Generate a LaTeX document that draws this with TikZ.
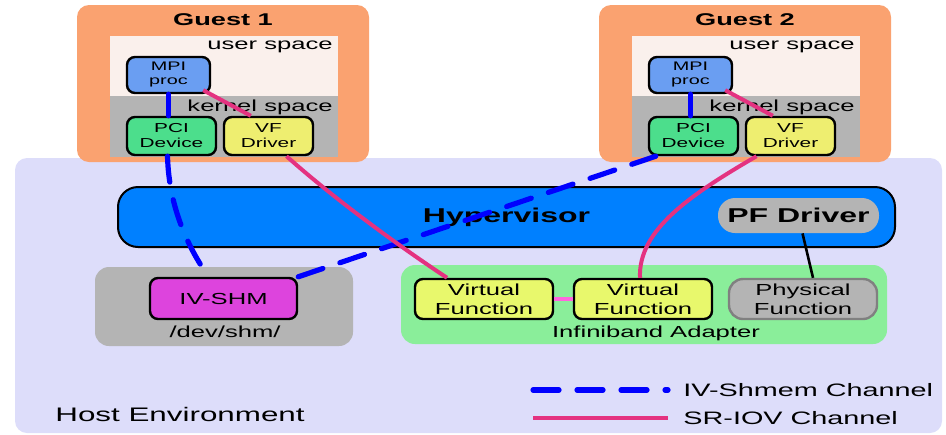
\documentclass[tikz,border=0pt]{standalone}
\usepackage{fontspec}
\setmainfont[FakeStretch=1.6]{Liberation Sans}
\definecolor{hostbg}{RGB}{221,221,250}
\definecolor{guestbg}{RGB}{250,162,112}
\definecolor{userbg}{RGB}{250,240,236}
\definecolor{kernbg}{RGB}{180,180,180}
\definecolor{mpiblue}{RGB}{106,158,242}
\definecolor{pcigreen}{RGB}{76,222,140}
\definecolor{drvyellow}{RGB}{238,238,112}
\definecolor{hypblue}{RGB}{0,128,255}
\definecolor{shmmag}{RGB}{221,68,221}
\definecolor{ibgreen}{RGB}{138,238,154}
\definecolor{vfyellow}{RGB}{232,248,108}
\definecolor{srpink}{RGB}{228,50,128}
\definecolor{vfpink}{RGB}{255,102,221}

\begin{document}
\begin{tikzpicture}[x=.5pt,y=-.5pt,
  box/.style={draw,line width=1.2pt,rounded corners=4pt,inner sep=0pt,align=center},
  shmem/.style={blue,line width=2.6pt,dash pattern=on 13pt off 9pt,line cap=round},
  sriov/.style={srpink,line width=2pt},
  tiny/.style={font=\fontsize{6.5}{7.5}\selectfont},
  txt/.style={font=\fontsize{8}{9.5}\selectfont},
  lbl/.style={inner sep=0pt,font=\fontsize{8}{9.5}\selectfont},
  big/.style={font=\bfseries\fontsize{10}{12}\selectfont}]
\useasboundingbox (0,0) rectangle (946,434);
% host
\fill[hostbg,rounded corners=6pt] (15,158) rectangle (942,433);
\node[anchor=west,inner sep=0pt,font=\fontsize{9.8}{11}\selectfont] (host) at (55,414) {Host Environment};
% guest 1
\fill[guestbg,rounded corners=6pt] (77,5) rectangle (369,162);
\fill[userbg] (110,36) rectangle (338,96);
\fill[kernbg] (110,96) rectangle (338,157);
\node[font=\bfseries\fontsize{8.5}{10}\selectfont] (g1) at (223,20) {Guest 1};
\node[anchor=east,lbl] (us1) at (333,47) {user space};
\node[anchor=east,lbl] (ks1) at (333,107) {kernel space};
\node[box,fill=mpiblue,minimum width=41.5pt,minimum height=18pt,font=\fontsize{6.2}{7}\selectfont] (mpi1) at (168.5,75) {MPI\\proc};
\node[box,fill=pcigreen,minimum width=44.5pt,minimum height=19pt,tiny] (pci1) at (171.5,136) {PCI\\Device};
\node[box,fill=drvyellow,minimum width=44.5pt,minimum height=19pt,tiny] (vfd1) at (268.5,136) {VF\\Driver};
% guest 2
\fill[guestbg,rounded corners=6pt] (599,5) rectangle (891,162);
\fill[userbg] (632,36) rectangle (860,96);
\fill[kernbg] (632,96) rectangle (860,157);
\node[font=\bfseries\fontsize{8.5}{10}\selectfont] (g2) at (745,20) {Guest 2};
\node[anchor=east,lbl] (us2) at (855,47) {user space};
\node[anchor=east,lbl] (ks2) at (855,107) {kernel space};
\node[box,fill=mpiblue,minimum width=41.5pt,minimum height=18pt,font=\fontsize{6.2}{7}\selectfont] (mpi2) at (690.5,75) {MPI\\proc};
\node[box,fill=pcigreen,minimum width=44.5pt,minimum height=19pt,tiny] (pci2) at (693.5,136) {PCI\\Device};
\node[box,fill=drvyellow,minimum width=44.5pt,minimum height=19pt,tiny] (vfd2) at (790.5,136) {VF\\Driver};
% hypervisor
\node[box,line width=1pt,fill=hypblue,rounded corners=10pt,minimum width=388.5pt,minimum height=30pt,big] (hyp) at (506.5,217) {Hypervisor};
\node[fill=kernbg,rounded corners=8.5pt,inner sep=0pt,minimum width=80.5pt,minimum height=17.5pt,big] (pfd) at (798.5,215.5) {PF Driver};
% shared memory
\fill[kernbg,rounded corners=7pt] (95,267) rectangle (353,346);
\node[box,fill=shmmag,minimum width=73.5pt,minimum height=20.5pt,txt] (ivshm) at (223.5,298.5) {IV-SHM};
\node[txt] (devshm) at (225,332) {/dev/shm/};
% adapter
\fill[ibgreen,rounded corners=7pt] (401,265) rectangle (887,344);
\node[box,fill=vfyellow,minimum width=69pt,minimum height=20pt,txt] (vf1) at (484,299) {Virtual\\Function};
\node[box,fill=vfyellow,minimum width=69pt,minimum height=20pt,txt] (vf2) at (643,299) {Virtual\\Function};
\node[box,draw=gray,fill=kernbg,rounded corners=7pt,minimum width=74pt,minimum height=20pt,txt] (phys) at (803,299) {Physical\\Function};
\node[txt] (ib) at (656,333) {Infiniband Adapter};
% channels
\draw[shmem] (mpi1.south) -- (mpi1.south |- pci1.north);
\draw[shmem] ([xshift=-2pt]pci1.south) .. controls (169,210) and (190,250) .. ([xshift=-7.5pt]ivshm.north);
\draw[shmem] (ivshm.north east) -- ([xshift=4pt]pci2.south west);
\draw[shmem] (mpi2.south) -- (mpi2.south |- pci2.north);
\draw[sriov] ([shift={(-4pt,2pt)}]mpi1.south east) -- ([xshift=14pt]vfd1.north west);
\draw[sriov] ([xshift=9pt]vfd1.south) .. controls (330,195) and (390,240) .. ([xshift=-18.5pt]vf1.north);
\draw[sriov] ([shift={(-4pt,2pt)}]mpi2.south east) -- ([xshift=14pt]vfd2.north west);
\draw[sriov] ([xshift=-17pt]vfd2.south) .. controls (690,195) and (638,230) .. ([xshift=-1.5pt]vf2.north);
\draw[vfpink,line width=1.8pt] (vf1.east) -- (vf2.west);
\draw[line width=1.3pt] ([xshift=2pt]pfd.south) -- ([xshift=5pt]phys.north);
% legend
\coordinate (shA) at (533,390);
\coordinate (shB) at (668,390);
\draw[shmem] (shA) -- (shB);
\node[anchor=west,inner sep=0pt,font=\fontsize{9}{11}\selectfont] (shlbl) at (683,390) {IV-Shmem Channel};
\coordinate (srA) at (533,418);
\coordinate (srB) at (668,418);
\draw[sriov] (srA) -- (srB);
\node[anchor=west,inner sep=0pt,font=\fontsize{9}{11}\selectfont] (srlbl) at (683,418) {SR-IOV Channel};
\end{tikzpicture}
\end{document}
